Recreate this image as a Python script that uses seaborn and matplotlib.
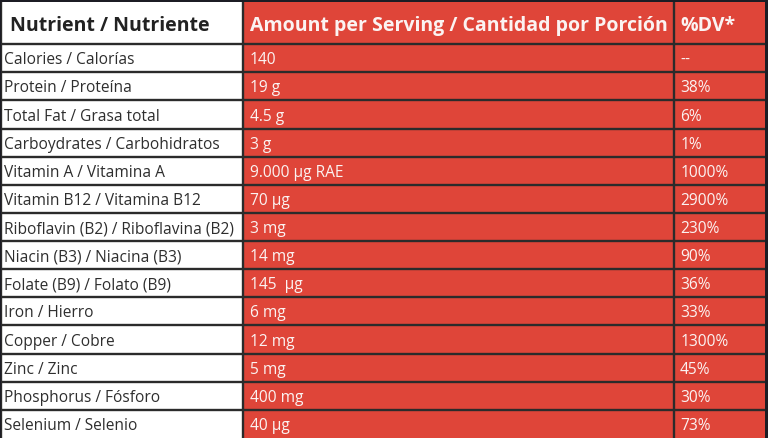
import numpy as np
import seaborn as sns
import matplotlib.pyplot as plt
from matplotlib.colors import ListedColormap

headers = ["Nutrient / Nutriente", "Amount per Serving / Cantidad por Porción", "%DV*"]
nutrients = [
    "Calories / Calorías", "Protein / Proteína", "Total Fat / Grasa total",
    "Carboydrates / Carbohidratos", "Vitamin A / Vitamina A", "Vitamin B12 / Vitamina B12",
    "Riboflavin (B2) / Riboflavina (B2)", "Niacin (B3) / Niacina (B3)", "Folate (B9) / Folato (B9)",
    "Iron / Hierro", "Copper / Cobre", "Zinc / Zinc", "Phosphorus / Fósforo", "Selenium / Selenio",
]
amounts = ["140", "19 g", "4.5 g", "3 g", "9.000 µg RAE", "70 µg", "3 mg", "14 mg",
           "145  µg", "6 mg", "12 mg", "5 mg", "400 mg", "40 µg"]
daily_values = ["--", "38%", "6%", "1%", "1000%", "2900%", "230%", "90%", "36%",
                "33%", "1300%", "45%", "30%", "73%"]

plt.rcParams['font.family'] = ['Open Sans', 'DejaVu Sans']

col_widths = [242, 432, 91]
row_heights = [3] + [2] * len(nutrients)
col_codes = [0, 1, 1]  # 0 = white, 1 = red

rows = [headers] + [list(r) for r in zip(nutrients, amounts, daily_values)]
grid = np.array([col_codes] * len(rows))
grid = np.repeat(np.repeat(grid, row_heights, axis=0), col_widths, axis=1)

x_edges = np.concatenate([[0], np.cumsum(col_widths)])
y_edges = np.concatenate([[0], np.cumsum(row_heights)])

fig = plt.figure(figsize=(7.68, 4.38), dpi=100, facecolor="#1c1c24")
ax = fig.add_axes([0.0013, 0, 764 / 768, 436 / 438])
sns.heatmap(grid, cmap=ListedColormap(["#ffffff", "#df4539"]), vmin=0, vmax=1,
            cbar=False, xticklabels=False, yticklabels=False, ax=ax)

line_col = "#2b2b2b"
ax.hlines(y_edges[1:-1], 0, x_edges[-1], colors=line_col, lw=1.7)
ax.vlines(x_edges[:-1], 0, y_edges[-1], colors=line_col, lw=1.7)

for i, row in enumerate(rows):
    yc = (y_edges[i] + y_edges[i + 1]) / 2
    header = i == 0
    for j, txt in enumerate(row):
        pad = [9 if header else 3, 7, 6][j]
        color = ("#222222" if header else "#2e2e2e") if j == 0 else "#fbf3f2"
        ax.text(x_edges[j] + pad, yc, txt, ha="left", va="center_baseline",
                color=color, fontsize=14 if header else 11.2,
                fontweight="bold" if header else "medium")

fig.savefig("out.png", dpi=100, facecolor=fig.get_facecolor())
